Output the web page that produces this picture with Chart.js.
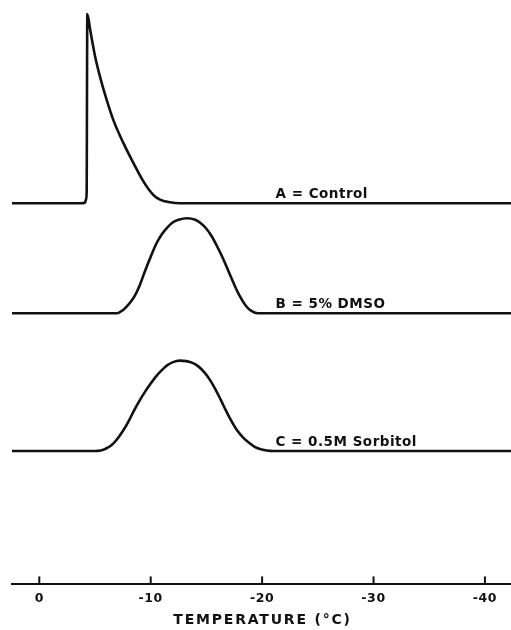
<!DOCTYPE html>
<html>
<head>
<meta charset="utf-8">
<script src="https://cdn.jsdelivr.net/npm/chart.js@4/dist/chart.umd.min.js"></script>
<style>
  html, body { margin: 0; padding: 0; background: #fff; }
  canvas { display: block; }
</style>
</head>
<body>
<canvas id="thermo" width="511" height="630"></canvas>
<script>
// Freezing exotherms: temperature (°C) vs. heat-flow signal (arbitrary units)
const tempA   = [2.45, -3.65, -4.10, -4.19, -4.25, -4.31, -4.57, -5.01, -5.60, -6.05, -6.64, -7.54, -8.44, -9.34, -10.23, -10.83, -11.73, -12.6, -42.34];
const signalA = [0, 0, 0.1, 0.74, 2.1, 37.9, 34.7, 29.4, 24.1, 20.7, 16.7, 12.1, 8.1, 4.4, 1.7, 0.74, 0.2, 0, 0];

const tempB   = [2.45, -7.0, -7.5, -8.0, -8.5, -9.0, -9.5, -10.0, -10.5, -11.0, -11.5, -12.0, -12.5, -13.25, -14.0, -14.5, -15.0, -15.5, -16.0, -16.5, -17.0, -17.5, -18.0, -18.5, -19.0, -19.6, -42.34];
const signalB = [0, 0, 0.6, 1.7, 3.2, 5.5, 8.5, 11.3, 13.9, 15.8, 17.2, 18.2, 18.7, 19.0, 18.7, 18.0, 16.9, 15.3, 13.2, 10.9, 8.3, 5.7, 3.4, 1.6, 0.5, 0, 0];

const tempC   = [2.45, -5.0, -5.5, -6.0, -6.5, -7.0, -7.5, -8.0, -8.5, -9.0, -9.5, -10.0, -10.5, -11.0, -11.5, -12.0, -12.6, -13.2, -13.8, -14.3, -14.8, -15.3, -15.8, -16.3, -16.8, -17.3, -17.8, -18.3, -18.8, -19.3, -19.8, -20.4, -21.0, -42.34];
const signalC = [0, 0, 0.1, 0.5, 1.2, 2.4, 4.0, 5.9, 8.1, 10.1, 11.9, 13.5, 15.0, 16.2, 17.2, 17.8, 18.1, 18.0, 17.6, 16.9, 15.8, 14.3, 12.4, 10.2, 7.9, 5.8, 4.0, 2.7, 1.7, 0.9, 0.4, 0.1, 0, 0];

// Vertical offset of each trace so the three thermograms stack
const baselines   = [76.3, 54.3, 26.7];
const seriesNames = ['A = Control', 'B = 5% DMSO', 'C = 0.5M Sorbitol'];

const tickValues = [0, -10, -20, -30, -40];
const axisTitle  = 'TEMPERATURE (°C)';
const labelTemp  = -21.2;   // where the trace captions begin

const INK = '#111';

function trace(temps, signal, offset) {
  return temps.map((t, i) => ({ x: t, y: offset + signal[i] }));
}

const inkPlugin = {
  id: 'ink',
  beforeDraw(chart) {
    chart.ctx.letterSpacing = '0.6px';
  },
  afterDraw(chart) {
    const { ctx, chartArea, scales: { x, y } } = chart;
    ctx.save();
    // tick marks pointing up from the axis line
    ctx.strokeStyle = INK;
    ctx.lineWidth = 2;
    x.ticks.forEach(t => {
      const px = x.getPixelForValue(t.value);
      ctx.beginPath();
      ctx.moveTo(px, chartArea.bottom);
      ctx.lineTo(px, chartArea.bottom - 8);
      ctx.stroke();
    });
    // trace captions sitting on each baseline
    ctx.fillStyle = INK;
    ctx.font = 'bold 13.5px "DejaVu Sans"';
    ctx.letterSpacing = '0.5px';
    ctx.textAlign = 'left';
    ctx.textBaseline = 'alphabetic';
    seriesNames.forEach((name, i) => {
      ctx.fillText(name, x.getPixelForValue(labelTemp), y.getPixelForValue(baselines[i]) - 5);
    });
    // axis title
    ctx.font = 'bold 14px "DejaVu Sans"';
    ctx.letterSpacing = '1.8px';
    ctx.textAlign = 'center';
    ctx.fillText(axisTitle, (chartArea.left + chartArea.right) / 2 + 1, chartArea.bottom + 40);
    ctx.restore();
    ctx.letterSpacing = '0px';
  }
};

const lineStyle = {
  borderColor: INK,
  borderWidth: 2.6,
  pointRadius: 0,
  fill: false,
  cubicInterpolationMode: 'monotone'
};

new Chart(document.getElementById('thermo'), {
  type: 'line',
  data: {
    datasets: [
      { label: seriesNames[0], data: trace(tempA, signalA, baselines[0]), ...lineStyle },
      { label: seriesNames[1], data: trace(tempB, signalB, baselines[1]), ...lineStyle },
      { label: seriesNames[2], data: trace(tempC, signalC, baselines[2]), ...lineStyle }
    ]
  },
  options: {
    responsive: false,
    animation: false,
    events: [],
    layout: { padding: { left: 12, right: 0, top: 0, bottom: 16.6 } },
    plugins: { legend: { display: false }, tooltip: { enabled: false } },
    scales: {
      x: {
        type: 'linear',
        reverse: true,
        min: -42.34,
        max: 2.45,
        afterBuildTicks: s => { s.ticks = tickValues.map(v => ({ value: v })); },
        grid: { display: true, drawOnChartArea: false, drawTicks: false },
        border: { display: true, color: INK, width: 2 },
        ticks: {
          color: INK,
          font: { family: 'DejaVu Sans', weight: 'bold', size: 12.5 },
          padding: 7,
          autoSkip: false,
          maxRotation: 0,
          callback: v => String(v)
        },
        title: { display: false }
      },
      y: { display: false, min: 0, max: 117 }
    }
  },
  plugins: [inkPlugin]
});
</script>
</body>
</html>
